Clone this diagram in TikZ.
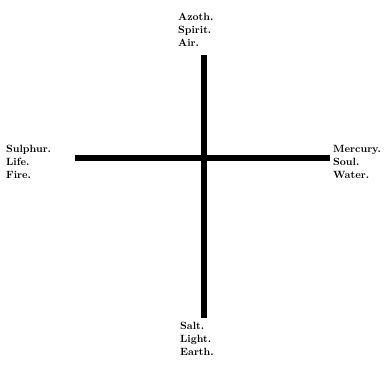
\documentclass[tikz,border=0pt]{standalone}
\usepackage{tikz}
\usetikzlibrary{positioning}
\tikzset{
  elemlabel/.style={font=\bfseries\fontsize{10.5}{13}\selectfont,align=left,inner sep=1pt,text depth=0pt},
  crossbar/.style={line width=6pt}
}

\begin{document}
\begin{tikzpicture}[x=1pt,y=-1pt]
      \useasboundingbox (0,0) rectangle (390,367);
      \node[elemlabel,anchor=south west] (air) at (177,48) {Azoth.\\Spirit.\\Air.};
      \node[elemlabel,anchor=north west] (earth) at (179,321) {Salt.\\Light.\\Earth.};
      \node[elemlabel,anchor=west] (fire) at (5,162) {Sulphur.\\Life.\\Fire.};
      \node[elemlabel,anchor=west] (water) at (332,162) {Mercury.\\Soul.\\Water.};
      \coordinate (top) at (204,55);
      \coordinate (bottom) at (204,318);
      \coordinate (left) at (75,158);
      \coordinate (right) at (330,158);
      \draw[crossbar] (top) -- (bottom);
      \draw[crossbar] (left) -- (right);
    \end{tikzpicture}
\end{document}
